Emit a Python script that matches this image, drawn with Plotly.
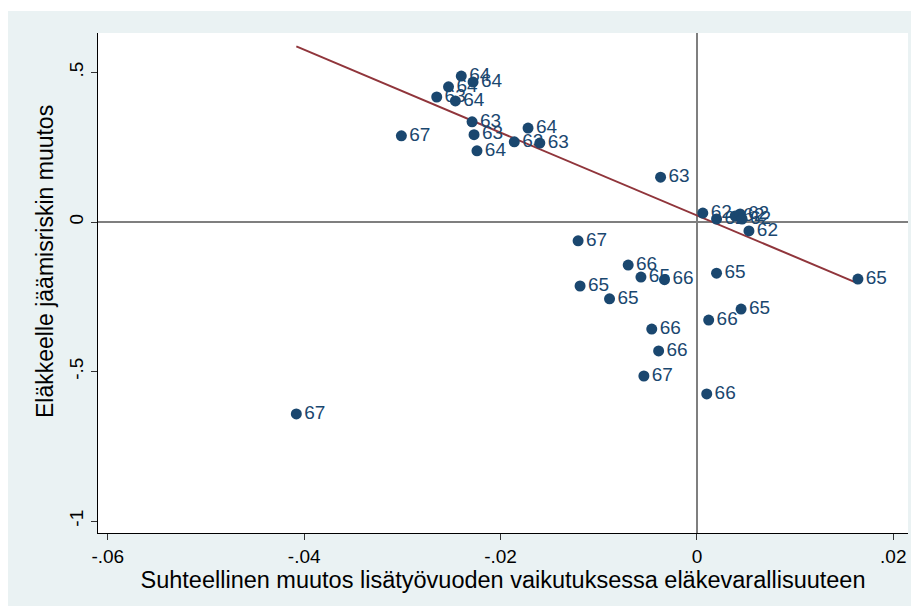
import numpy as np
import plotly.graph_objects as go

# Data
x_vals = [-0.0240, -0.0228, -0.0253, -0.0265, -0.0246, -0.0229, -0.0227, -0.0301,
          -0.0172, -0.0186, -0.0160, -0.0224, -0.0037,
          0.0006, 0.0020, 0.0039, 0.0044, 0.0046, 0.0053,
          -0.0121, -0.0070, -0.0057, -0.0033, -0.0119, -0.0089, 0.0020, 0.0045,
          0.0012, -0.0046, -0.0039, -0.0054, 0.0010, -0.0408, 0.0164]
y_vals = [0.488, 0.468, 0.452, 0.418, 0.405, 0.335, 0.292, 0.288,
          0.314, 0.268, 0.264, 0.238, 0.150,
          0.030, 0.010, 0.020, 0.027, 0.010, -0.030,
          -0.063, -0.144, -0.184, -0.193, -0.214, -0.257, -0.171, -0.291,
          -0.328, -0.358, -0.431, -0.515, -0.575, -0.642, -0.191]
labels = ["64", "64", "64", "63", "64", "63", "63", "67",
          "64", "63", "63", "64", "63",
          "62", "62", "62", "62", "62", "62",
          "67", "66", "65", "66", "65", "65", "65", "65",
          "66", "66", "66", "67", "66", "67", "65"]

# Fitted line as shown in the picture (intercept, slope)
fit_intercept = 0.022
fit_slope = -13.85

x_ticks = [-0.06, -0.04, -0.02, 0, 0.02]
x_tick_text = ["-.06", "-.04", "-.02", "0", ".02"]
y_ticks = [-1, -0.5, 0, 0.5]
y_tick_text = ["-1", "-.5", "0", ".5"]

x_title = "Suhteellinen muutos lisätyövuoden vaikutuksessa eläkevarallisuuteen"
y_title = "Eläkkeelle jäämisriskin muutos"

NAVY = "#1A476F"
MAROON = "#90353B"
BG = "#EAF2F3"
FONT = "Liberation Sans, Arial, sans-serif"

xa = np.array(x_vals)
fit_x = np.array([xa.min(), xa.max()])
fit_y = fit_intercept + fit_slope * fit_x

fig = go.Figure()
fig.add_trace(go.Scatter(
    x=fit_x, y=fit_y, mode="lines",
    line=dict(color=MAROON, width=2), showlegend=False,
))
fig.add_trace(go.Scatter(
    x=x_vals, y=y_vals, mode="markers+text", text=labels,
    textposition="middle right",
    textfont=dict(family=FONT, size=19, color=NAVY),
    marker=dict(color=NAVY, size=11, line=dict(width=0)),
    showlegend=False, cliponaxis=False,
))

fig.update_layout(
    width=911, height=598,
    margin=dict(l=90, r=11, t=25, b=73),
    paper_bgcolor=BG, plot_bgcolor="white",
    font=dict(family=FONT, size=19, color="black"),
    shapes=[
        dict(type="rect", xref="paper", yref="paper",
             x0=-0.2, x1=1.1, y0=1.044, y1=1.2,
             fillcolor="white", line=dict(width=0), layer="below"),
    ],
    annotations=[
        dict(text=y_title, xref="paper", yref="paper", x=-0.0654, y=0.542,
             xanchor="center", yanchor="middle", textangle=-90,
             showarrow=False, font=dict(size=23, color="black")),
    ],
)
fig.update_xaxes(
    range=[-0.0610, 0.0215], tickvals=x_ticks, ticktext=x_tick_text,
    showgrid=False, zeroline=True, zerolinecolor="#7F7F7F", zerolinewidth=1.5,
    showline=True, linecolor="black", linewidth=1,
    ticks="outside", ticklen=6, tickcolor="#333333",
    tickfont=dict(size=19), automargin=False,
    title=dict(text=x_title, font=dict(size=23.5), standoff=0),
)
fig.update_yaxes(
    range=[-1.040, 0.632], tickvals=y_ticks, ticktext=y_tick_text,
    showgrid=False, zeroline=True, zerolinecolor="#7F7F7F", zerolinewidth=1.5,
    showline=True, linecolor="black", linewidth=1,
    ticks="outside", ticklen=6, tickcolor="#333333",
    tickangle=-90, tickfont=dict(size=19), automargin=False,
)

fig.write_html("out.html")
